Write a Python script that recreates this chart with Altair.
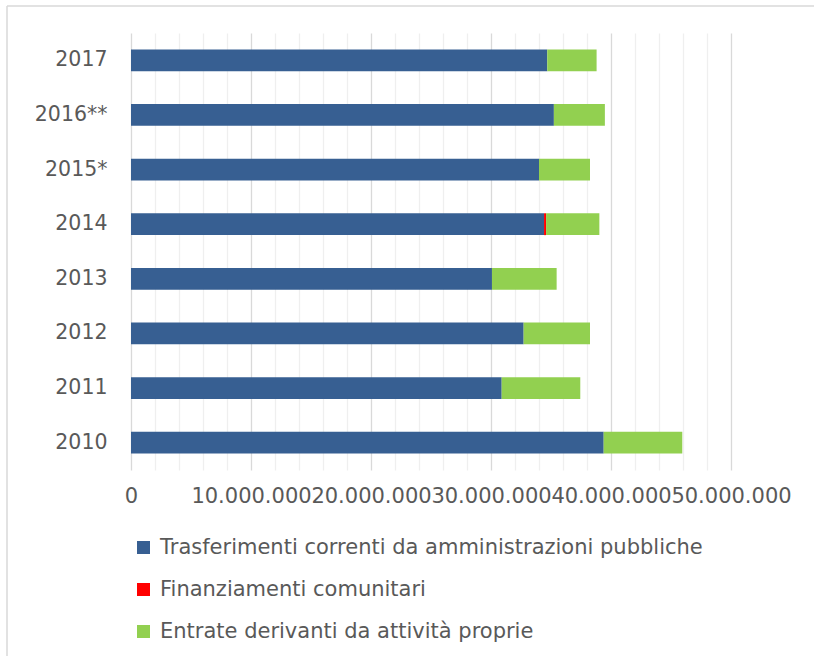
import altair as alt
import pandas as pd

years = ["2017", "2016**", "2015*", "2014", "2013", "2012", "2011", "2010"]
trasferimenti = [34690000, 35240000, 34000000, 34420000, 30080000, 32720000, 30890000, 39390000]
finanziamenti = [0, 0, 0, 170000, 0, 0, 0, 0]
entrate = [4110000, 4250000, 4250000, 4440000, 5390000, 5530000, 6550000, 6550000]

series = [
    "Trasferimenti correnti da amministrazioni pubbliche",
    "Finanziamenti comunitari",
    "Entrate derivanti da attività proprie",
]
colors = ["#375F92", "#FF0000", "#92D050"]
tick_values = list(range(0, 50000001, 2000000))

rows = []
for i, y in enumerate(years):
    for k, vals in enumerate([trasferimenti, finanziamenti, entrate]):
        rows.append({"anno": y, "serie": series[k], "valore": vals[i], "ord": k})
df = pd.DataFrame(rows)

FONT = "DejaVu Sans"
GREY = "#595959"

bars = alt.Chart(df).mark_bar().encode(
    y=alt.Y(
        "anno:N",
        sort=years,
        scale=alt.Scale(paddingInner=0.6, paddingOuter=0.3),
        axis=alt.Axis(
            title=None, domain=False, ticks=False, labelFontSize=20.5,
            labelColor=GREY, labelFont=FONT, labelPadding=24,
        ),
    ),
    x=alt.X(
        "valore:Q",
        stack="zero",
        scale=alt.Scale(domain=[0, 50000000], nice=False),
        axis=alt.Axis(
            title=None, domain=False, ticks=False, tickSize=0,
            values=tick_values,
            labelExpr="datum.value % 10000000 === 0 ? replace(format(datum.value, ','), /,/g, '.') : ''",
            labelOverlap=False, labelFlush=False, labelBound=False,
            labelFontSize=21, labelColor=GREY, labelFont=FONT, labelPadding=15,
            gridColor={"condition": {"test": "datum.value % 10000000 === 0", "value": "#d9d9d9"}, "value": "#efefef"},
            gridWidth=1.3,
        ),
    ),
    color=alt.Color(
        "serie:N",
        scale=alt.Scale(domain=series, range=colors),
        legend=alt.Legend(
            title=None, orient="none", legendX=2, legendY=504, direction="vertical",
            symbolType="square", symbolSize=169, symbolStrokeWidth=0,
            labelFontSize=21, labelColor=GREY, labelFont=FONT, labelLimit=800,
            labelOffset=6, rowPadding=20, padding=0,
        ),
    ),
    order=alt.Order("ord:Q"),
)

frame_data = alt.Data(values=[{"a": 1}])
frame_v = alt.Chart(frame_data).mark_rule(color="#d9d9d9", strokeWidth=1.5).encode(
    x=alt.value(-124), y=alt.value(-27), y2=alt.value(640)
)
frame_h = alt.Chart(frame_data).mark_rule(color="#d9d9d9", strokeWidth=1.5).encode(
    x=alt.value(-124), x2=alt.value(700), y=alt.value(-27)
)

chart = alt.layer(bars, frame_v, frame_h).properties(
    width=600,
    height=437,
    padding={"left": 131, "top": 33, "right": 83, "bottom": 186},
    autosize=alt.AutoSizeParams(type="none"),
).configure(background="white").configure_view(stroke=None)

chart.save("out.html", embed_options={"renderer": "svg", "actions": False})
